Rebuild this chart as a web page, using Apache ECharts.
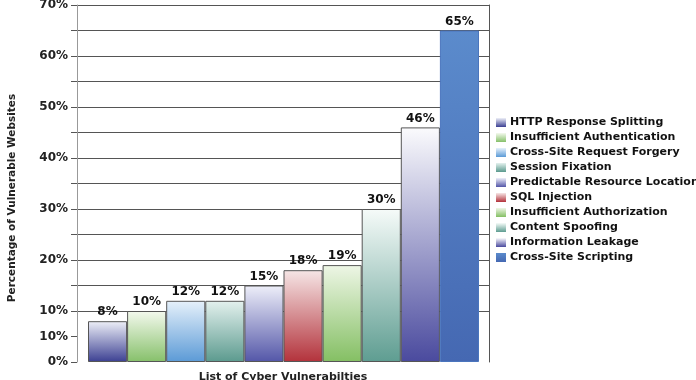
<!DOCTYPE html>
<html>
<head>
<meta charset="utf-8">
<script src="https://cdn.jsdelivr.net/npm/echarts@6/dist/echarts.min.js"></script>
<style>
html,body{margin:0;padding:0;background:#fff;}
#chart{width:696px;height:380px;}
</style>
</head>
<body>
<div id="chart"></div>
<script>
var categories = [
  'HTTP Response Splitting',
  'Insufficient Authentication',
  'Cross-Site Request Forgery',
  'Session Fixation',
  'Predictable Resource Location',
  'SQL Injection',
  'Insufficient Authorization',
  'Content Spoofing',
  'Information Leakage',
  'Cross-Site Scripting'
];
var values = [8, 10, 12, 12, 15, 18, 19, 30, 46, 65];
var yTickValues = [0, 5, 10, 20, 30, 40, 50, 60, 70];
var yTickLabels = ['0%', '10%', '10%', '20%', '30%', '40%', '50%', '60%', '70%'];
var xTitle = 'List of Cyber Vulnerabilties';
var yTitle = 'Percentage of Vulnerable Websites';

var colorTop = ['#eef0f8','#f4f9ee','#e6f1fb','#e4f1ee','#eeeff9','#f6e6e6','#eef6e6','#f6fbf9','#fbfbfd','#5b8bcc'];
var colorBottom = ['#3b3f92','#86c06a','#5b9ad6','#5b9a8e','#5356a8','#b3323b','#84bf63','#5e9d91','#4a4a9e','#4568b2'];
var borderColors = ['#555','#555','#555','#555','#555','#555','#555','#555','#555','#4a75bd'];

var FONT = 'DejaVu Sans';
var chart = echarts.init(document.getElementById('chart'), null, {renderer: 'canvas'});

var splitColors = [];
for (var k = 0; k <= 14; k++) splitColors.push(k < 2 ? 'rgba(0,0,0,0)' : '#555');

var series = categories.map(function (name, i) {
  var data = values.map(function (v, j) { return j === i ? v : '-'; });
  return {
    name: name,
    type: 'bar',
    stack: 'total',
    xAxisIndex: 1,
    yAxisIndex: 2,
    barCategoryGap: '0%',
    data: data,
    itemStyle: {
      color: new echarts.graphic.LinearGradient(0, 0, 0, 1, [
        {offset: 0, color: colorTop[i]},
        {offset: 1, color: colorBottom[i]}
      ]),
      borderColor: borderColors[i],
      borderWidth: 1
    },
    label: {
      show: true,
      position: 'top',
      distance: 3,
      formatter: '{c}%',
      fontFamily: FONT,
      fontWeight: 'bold',
      fontSize: 12,
      color: '#111'
    },
    emphasis: {disabled: true}
  };
});

var option = {
  animation: false,
  backgroundColor: '#fff',
  grid: [
    {left: 77, right: 207, top: 5, bottom: 18, outerBoundsMode: 'none', containLabel: false},
    {left: 88, right: 217, top: 5, bottom: 18, outerBoundsMode: 'none', containLabel: false}
  ],
  xAxis: [
    {
      gridIndex: 0, type: 'category', data: [''],
      axisLine: {show: false}, axisTick: {show: false}, axisLabel: {show: false},
      splitLine: {show: false},
      name: xTitle, nameLocation: 'middle', nameGap: 10,
      nameTextStyle: {fontFamily: FONT, fontWeight: 'bold', fontSize: 11, color: '#222', verticalAlign: 'top'}
    },
    {
      gridIndex: 1, type: 'category', data: categories, show: false, boundaryGap: true
    }
  ],
  yAxis: [
    {
      gridIndex: 0, type: 'value', min: 0, max: 70, interval: 5,
      axisLine: {show: true, lineStyle: {color: '#999', width: 1}},
      axisTick: {show: true, inside: false, length: 6, lineStyle: {color: '#555'}},
      axisLabel: {
        margin: 9, fontFamily: FONT, fontWeight: 'bold', fontSize: 12, color: '#222',
        formatter: function (v) {
          var idx = yTickValues.indexOf(v);
          return idx >= 0 ? yTickLabels[idx] : '';
        }
      },
      splitLine: {show: true, lineStyle: {color: splitColors, width: 1}}
    },
    {
      gridIndex: 0, type: 'value', min: 0, max: 70, position: 'right',
      axisLine: {show: true, lineStyle: {color: '#555', width: 1}},
      axisTick: {show: false}, axisLabel: {show: false}, splitLine: {show: false}
    },
    {
      gridIndex: 1, type: 'value', min: 0, max: 70, show: false, splitLine: {show: false}
    }
  ],
  legend: {
    data: categories,
    orient: 'vertical',
    left: 496,
    top: 117,
    padding: 0,
    itemWidth: 10,
    itemHeight: 9,
    itemGap: 4,
    icon: 'rect',
    itemStyle: {borderWidth: 0},
    selectedMode: false,
    textStyle: {fontFamily: FONT, fontWeight: 'bold', fontSize: 11, lineHeight: 11, color: '#111', padding: [0, 0, 0, -1]}
  },
  graphic: [
    {
      type: 'text',
      x: 12, y: 198,
      rotation: Math.PI / 2,
      style: {
        text: yTitle,
        font: 'bold 10.5px "DejaVu Sans"',
        fill: '#222',
        textAlign: 'center',
        textVerticalAlign: 'middle'
      }
    }
  ],
  series: series
};
chart.setOption(option);
</script>
</body>
</html>
